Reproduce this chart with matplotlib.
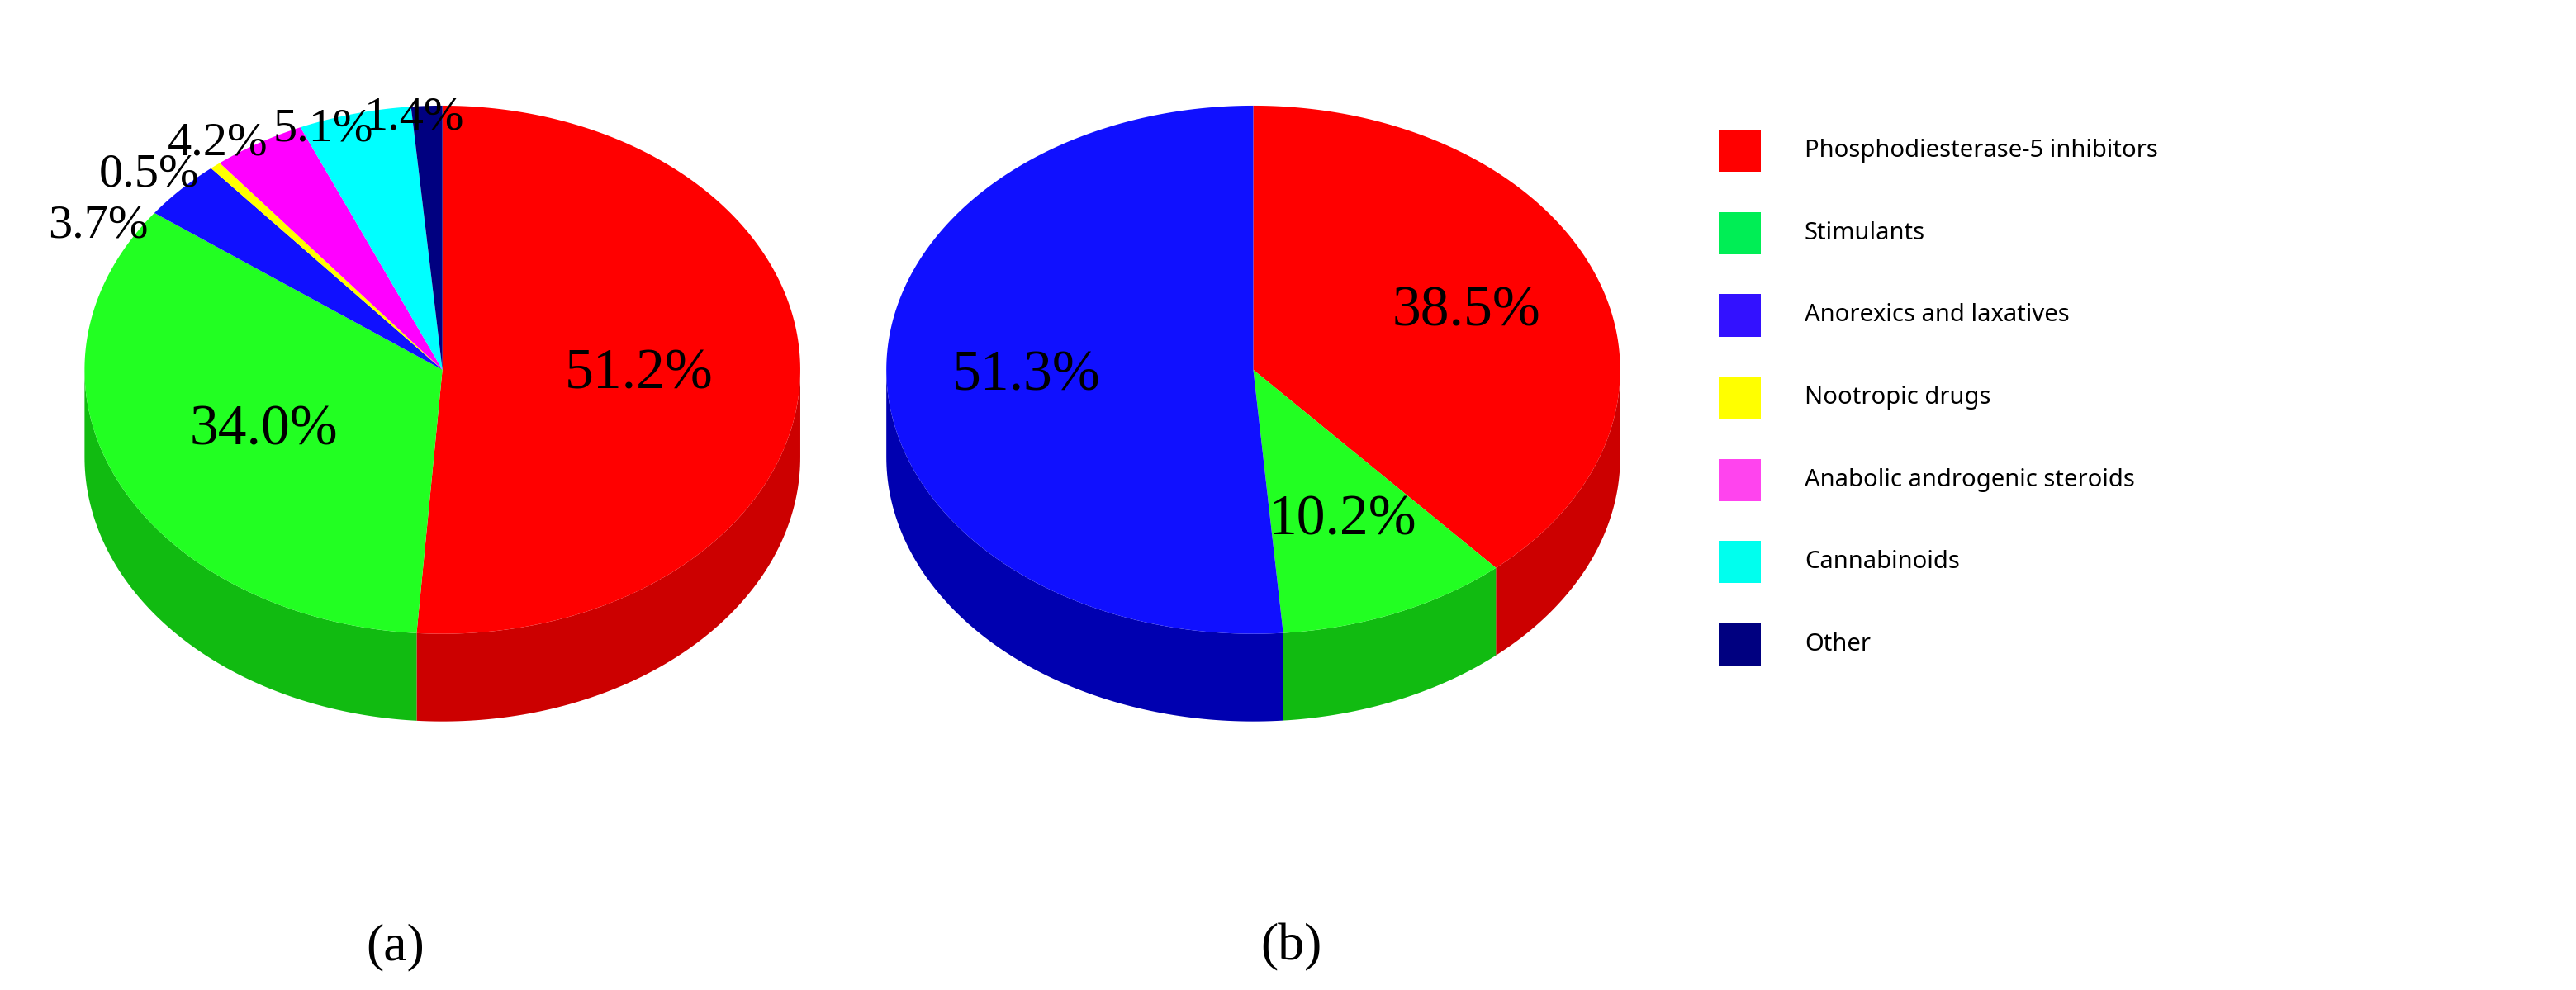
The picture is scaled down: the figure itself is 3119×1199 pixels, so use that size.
import numpy as np
import matplotlib.pyplot as plt
from matplotlib.patches import Polygon, Rectangle

# 데이터
labels = ['Phosphodiesterase-5 inhibitors', 'Stimulants', 'Anorexics and laxatives',
          'Nootropic drugs', 'Anabolic androgenic steroids', 'Cannabinoids', 'Other']
colors = ['#FF0000', '#22FF22', '#1010FF', '#FFFF00', '#FF00FF', '#00FFFF', '#000080']
side_colors = ['#CC0000', '#11BB11', '#0000B0', '#CCCC00', '#CC00CC', '#00CCCC', '#000060']
legend_colors = ['#FF0000', '#00EE55', '#3311FF', '#FFFF00', '#FF44EE', '#00FFEE', '#000080']
vals_a = [51.2, 34.0, 3.7, 0.5, 4.2, 5.1, 1.4]
vals_b = [38.5, 10.2, 51.3]
idx_b = [0, 1, 2]

# 작은 라벨 위치 보정 (화면 좌표)
offs_a = [None, None, (-55, 24), (-44, 6), (-27, 0), (-21, 10), (-8, 8)]
offs_b = [None, None, None]

W, H = 1706, 656  # 화면 좌표
fig = plt.figure(figsize=(31.19, 11.99), dpi=100)
ax = fig.add_axes([0, 0, 1, 1])
ax.set_xlim(0, W)
ax.set_ylim(H, 0)
ax.axis('off')


def pt(cx, cy, rx, ry, th):
    # th : 12시 방향부터 시계방향(도)
    t = np.radians(th)
    return cx + rx * np.sin(t), cy - ry * np.cos(t)


def pie3d(cx, cy, rx, ry, depth, vals, cidx, inside, offs):
    tot = sum(vals)
    starts = np.cumsum([0] + vals[:-1]) / tot * 360
    ends = np.cumsum(vals) / tot * 360
    # 옆면
    for s, e, ci in zip(starts, ends, cidx):
        a0, a1 = max(s, 90), min(e, 270)
        if a1 > a0:
            th = np.linspace(a0, a1, 100)
            x, y = pt(cx, cy, rx, ry, th)
            xs = np.concatenate([x, x[::-1]])
            ys = np.concatenate([y, y[::-1] + depth])
            ax.add_patch(Polygon(np.c_[xs, ys], closed=True, fc=side_colors[ci], ec='none'))
    # 윗면
    for s, e, ci in zip(starts, ends, cidx):
        th = np.linspace(s, e, 200)
        x, y = pt(cx, cy, rx, ry, th)
        xs = np.concatenate([[cx], x])
        ys = np.concatenate([[cy], y])
        ax.add_patch(Polygon(np.c_[xs, ys], closed=True, fc=colors[ci], ec='none'))
    # 라벨
    for v, s, e, o in zip(vals, starts, ends, offs):
        mid = (s + e) / 2
        if o is None:
            x, y = pt(cx, cy, rx * inside, ry * inside, mid)
            fs = 50
        else:
            x, y = pt(cx, cy, rx, ry, mid)
            x, y = x + o[0], y + o[1]
            fs = 42
        ax.text(x, y, f'{v:.1f}%', ha='center', va='center', fontsize=fs,
                family='Liberation Serif')


pie3d(293, 245, 237, 175, 58, vals_a, list(range(7)), 0.55, offs_a)
pie3d(830, 245, 243, 175, 58, vals_b, idx_b, 0.62, offs_b)

# 범례
for i, (lab, c) in enumerate(zip(labels, legend_colors)):
    y = 100 + i * 54.5
    ax.add_patch(Rectangle((1138, y - 14), 28, 28, fc=c, ec='none'))
    ax.text(1195, y, lab, ha='left', va='center', fontsize=21, family='Noto Sans',
            weight='semibold')

ax.text(262, 628, '(a)', ha='center', va='center', fontsize=46, family='Liberation Serif')
ax.text(855, 628, '(b)', ha='center', va='center', fontsize=46, family='Liberation Serif')

plt.savefig('out.png', dpi=100)
